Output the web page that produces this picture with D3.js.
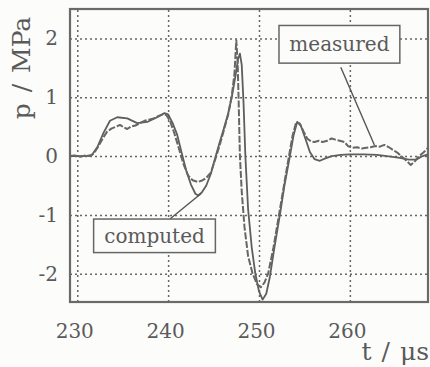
<!DOCTYPE html>
<html>
<head>
<meta charset="utf-8">
<script src="https://cdn.jsdelivr.net/npm/d3@7"></script>
<style>
  html, body { margin: 0; padding: 0; background: #fcfcfa; }
  svg { display: block; }
</style>
</head>
<body>
<svg id="chart" width="430" height="367"></svg>
<script>
// ---------- data ----------
const xTicks = [230, 240, 250, 260];
const yTicks = [-2, -1, 0, 1, 2];
const xLabel = "t / μs";
const yLabel = "p / MPa";

// computed pressure (t [µs], p [MPa])
const computedT = [229.2,230,231,231.6,232.2,232.9,233.6,234.4,235.5,236.6,237.7,238.8,239.6,240.0,240.5,241.0,241.5,242.0,242.5,243.0,243.3,243.7,244.2,244.7,245.2,245.7,246.1,246.6,247.0,247.4,247.7,247.9,248.1,248.3,248.5,248.8,249.2,249.6,250.0,250.4,250.8,251.2,251.7,252.3,252.8,253.4,253.8,254.2,254.6,255.1,255.6,256.1,256.7,257.3,258.0,259.0,260.0,261.5,263.0,264.5,265.5,266.5,267.3,268.0,268.6];
const computedP = [0,0,0,0.02,0.15,0.4,0.6,0.66,0.64,0.56,0.58,0.66,0.73,0.71,0.56,0.36,0.05,-0.25,-0.48,-0.64,-0.67,-0.62,-0.5,-0.3,-0.02,0.25,0.45,0.72,1.0,1.35,1.65,1.74,1.55,0.9,0.0,-0.9,-1.55,-2.0,-2.3,-2.44,-2.34,-2.05,-1.55,-1.0,-0.5,0.0,0.35,0.58,0.52,0.3,0.07,-0.05,-0.08,-0.04,0.0,0.02,0.03,0.03,0.02,-0.01,-0.03,-0.06,-0.06,0.0,0.03];

// measured pressure (t [µs], p [MPa])
const measuredT = [229.2,229.7,230.3,230.9,231.4,231.8,232.3,232.8,233.3,233.8,234.3,234.7,235.1,235.5,235.9,236.4,236.9,237.4,237.9,238.4,238.9,239.4,239.8,240.2,240.7,241.2,241.7,242.2,242.7,243.3,243.8,244.2,244.7,245.2,245.7,246.1,246.6,247.0,247.3,247.5,247.65,247.75,247.9,248.1,248.4,248.8,249.3,249.8,250.2,250.6,251.0,251.6,252.2,252.8,253.3,253.7,254.1,254.5,254.9,255.3,255.7,256.1,256.6,257.0,257.5,258.0,258.4,258.9,259.4,259.8,260.3,260.8,261.3,261.8,262.3,262.8,263.3,263.8,264.3,264.8,265.3,265.8,266.3,266.7,267.1,267.6,268.1,268.6];
const measuredP = [0.0,0.01,-0.01,0.01,0.0,0.04,0.16,0.3,0.42,0.47,0.5,0.53,0.49,0.46,0.5,0.52,0.56,0.6,0.62,0.64,0.68,0.71,0.7,0.6,0.38,0.12,-0.14,-0.33,-0.41,-0.44,-0.41,-0.37,-0.28,-0.05,0.2,0.42,0.7,1.02,1.4,1.97,1.6,1.0,0.0,-0.6,-1.2,-1.7,-2.0,-2.18,-2.23,-2.15,-2.0,-1.55,-1.0,-0.45,0.0,0.35,0.58,0.55,0.42,0.3,0.25,0.24,0.26,0.24,0.26,0.3,0.28,0.26,0.24,0.17,0.14,0.15,0.13,0.14,0.15,0.17,0.16,0.19,0.15,0.1,0.05,-0.02,-0.09,-0.15,-0.1,0.0,0.06,0.14];

const seriesNames = ["measured", "computed"];

// ---------- layout ----------
const plot = { left: 70, right: 428, top: 9, bottom: 302 };
const ink = "#5a5a5a";
const font = "'DejaVu Serif', 'Liberation Serif', serif";

const svg = d3.select("#chart");

const x = d3.scaleLinear().domain([229.2, 268.6]).range([plot.left, plot.right]);
const y = d3.scaleLinear().domain([-2.48, 2.5]).range([plot.bottom, plot.top]);

// grid + x tick labels
const gx = svg.append("g")
  .attr("transform", `translate(0,${plot.bottom})`)
  .call(d3.axisBottom(x).tickValues(xTicks).tickFormat(d3.format("d"))
    .tickSize(-(plot.bottom - plot.top)).tickPadding(22));
gx.select(".domain").remove();
gx.selectAll("line").attr("stroke", "#666").attr("stroke-width", 1.5).attr("stroke-dasharray", "2,3");
gx.selectAll("text").attr("font-family", font).attr("font-size", 20).attr("fill", ink)
  .attr("transform", "translate(-3,0)");

const gy = svg.append("g")
  .attr("transform", `translate(${plot.left},0)`)
  .call(d3.axisLeft(y).tickValues(yTicks).tickFormat(d3.format("d"))
    .tickSize(-(plot.right - plot.left)).tickPadding(12));
gy.select(".domain").remove();
gy.selectAll("line").attr("stroke", "#666").attr("stroke-width", 1.5).attr("stroke-dasharray", "2,3");
gy.selectAll("text").attr("font-family", font).attr("font-size", 20).attr("fill", ink)
  .text(d => d < 0 ? "-" + Math.abs(d) : d);

// frame
svg.append("rect")
  .attr("x", plot.left).attr("y", plot.top)
  .attr("width", plot.right - plot.left).attr("height", plot.bottom - plot.top)
  .attr("fill", "none").attr("stroke", "#6a6a6a").attr("stroke-width", 2.2);

// curves
const line = d3.line().x(d => x(d[0])).y(d => y(d[1]));
const computed = computedT.map((t, i) => [t, computedP[i]]);
const measured = measuredT.map((t, i) => [t, measuredP[i]]);

svg.append("path").datum(computed)
  .attr("d", line).attr("fill", "none")
  .attr("stroke", "#5e5e5e").attr("stroke-width", 1.8).attr("stroke-linejoin", "round");

svg.append("path").datum(measured)
  .attr("d", line).attr("fill", "none")
  .attr("stroke", "#666").attr("stroke-width", 2).attr("stroke-dasharray", "7,1.8")
  .attr("stroke-linejoin", "round");

// annotation labels (box in data coords: t0, t1, pTop, pBottom; leader from -> to)
const notes = [
  { name: seriesNames[0], box: [252.2, 265.5, 2.22, 1.58], from: [259.0, 1.51], to: [262.7, 0.19] },
  { name: seriesNames[1], box: [231.8, 245.2, -1.07, -1.64], from: [240.2, -1.07], to: [243.6, -0.64] }
];
notes.forEach(n => {
  svg.append("line")
    .attr("x1", x(n.from[0])).attr("y1", y(n.from[1]))
    .attr("x2", x(n.to[0])).attr("y2", y(n.to[1]))
    .attr("stroke", "#555").attr("stroke-width", 1.4);
  const bx = x(n.box[0]), bw = x(n.box[1]) - x(n.box[0]);
  const by = y(n.box[2]), bh = y(n.box[3]) - y(n.box[2]);
  svg.append("rect").attr("x", bx).attr("y", by).attr("width", bw).attr("height", bh)
    .attr("fill", "#fcfcfa").attr("stroke", "#666").attr("stroke-width", 1.5);
  svg.append("text").attr("x", bx + bw / 2).attr("y", by + bh / 2)
    .attr("dy", "0.35em").attr("text-anchor", "middle")
    .attr("font-family", font).attr("font-size", 20).attr("fill", ink)
    .text(n.name);
});

// axis titles
svg.append("text")
  .attr("transform", `translate(30,68) rotate(-90)`)
  .attr("text-anchor", "middle")
  .attr("font-family", font).attr("font-size", 25).attr("fill", ink)
  .attr("word-spacing", 3)
  .text(yLabel);

svg.append("text")
  .attr("x", 429).attr("y", 360)
  .attr("text-anchor", "end")
  .attr("font-family", font).attr("font-size", 25).attr("fill", ink)
  .attr("word-spacing", 2)
  .text(xLabel);
</script>
</body>
</html>
